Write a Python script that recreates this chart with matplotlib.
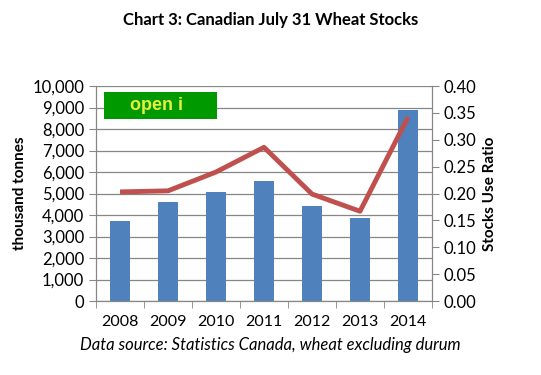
import matplotlib
matplotlib.use("Agg")
import matplotlib.pyplot as plt
from matplotlib.patches import Rectangle

plt.rcParams["font.family"] = ["Lato", "DejaVu Sans"]

years = ["2008", "2009", "2010", "2011", "2012", "2013", "2014"]
stocks = [3700, 4600, 5080, 5590, 4420, 3870, 8900]
ratio = [0.203, 0.205, 0.240, 0.286, 0.199, 0.167, 0.342]

BAR = "#4F81BD"
LINE = "#C0504D"
GRID = "#868686"

fig = plt.figure(figsize=(5.41, 3.75), dpi=100)
ax = fig.add_axes([0.1775, 0.1973, 0.621, 0.5733])
x = list(range(len(years)))
ax.bar(x, stocks, width=0.4, color=BAR, zorder=2)
ax.set_xlim(-0.5, len(years) - 0.5)
ax.set_ylim(0, 10000)
ax.set_yticks(range(0, 10001, 1000))
ax.set_yticklabels([f"{v:,}" for v in range(0, 10001, 1000)])
ax.grid(axis="y", color=GRID, linewidth=0.9, zorder=0)
ax.set_xticks(x)
ax.set_xticklabels(years)
ax.set_xticks([i - 0.5 for i in range(len(years) + 1)], minor=True)
ax.tick_params(axis="x", which="major", length=0, labelsize=11.5, pad=10)
ax.tick_params(axis="x", which="minor", length=5, color=GRID)
ax.tick_params(axis="y", length=5, color=GRID, labelsize=12)
ax.spines["top"].set_visible(False)
for s in ["left", "bottom", "right"]:
    ax.spines[s].set_color(GRID)
ax.set_ylabel("thousand tonnes", fontsize=11, fontweight="bold", labelpad=4)

ax2 = ax.twinx()
ax2.plot(x, ratio, color=LINE, linewidth=3.5, solid_capstyle="butt", zorder=3)
ax2.set_ylim(0, 0.40)
ax2.set_yticks([i * 0.05 for i in range(9)])
ax2.set_yticklabels([f"{i * 0.05:.2f}" for i in range(9)])
ax2.tick_params(axis="y", length=5, color=GRID, labelsize=12)
ax2.spines["top"].set_visible(False)
for s in ["left", "bottom", "right"]:
    ax2.spines[s].set_color(GRID)
ax2.set_ylabel("Stocks Use Ratio", fontsize=11, fontweight="bold", labelpad=5)

fig.text(0.5, 0.947, "Chart 3: Canadian July 31 Wheat Stocks", ha="center",
         va="center", fontsize=12, fontweight="bold")
fig.text(0.5, 0.08, "Data source: Statistics Canada, wheat excluding durum",
         ha="center", va="center", fontsize=12, style="italic")

fig.patches.append(Rectangle((104 / 541, 1 - 119 / 375), 113 / 541, 27 / 375,
                             transform=fig.transFigure, facecolor="#009900",
                             edgecolor="none", zorder=5))
fig.text(156 / 541, 1 - 105.5 / 375, "open i", ha="center", va="center",
         fontsize=13, fontweight="bold", color="#E6F03C", zorder=6,
         family="Liberation Sans")

fig.savefig("out.png", dpi=100)
